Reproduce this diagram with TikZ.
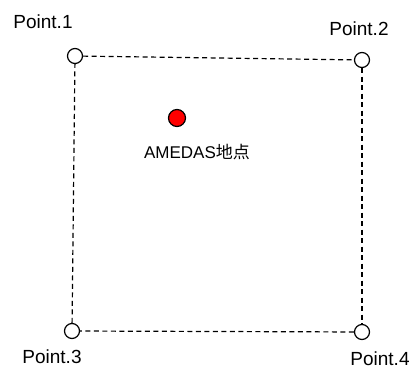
\documentclass[tikz,border=0pt]{standalone}
\usepackage{fontspec}
\setmainfont{Liberation Sans}
\newfontfamily\jpfont{Noto Sans CJK JP}
\begin{document}
\begin{tikzpicture}[x=1pt,y=-1pt,
  gridpt/.style={circle,draw=black,fill=white,line width=1.2pt,minimum size=15pt,inner sep=0pt},
  station/.style={circle,draw=black,fill=red,line width=1.2pt,minimum size=17pt,inner sep=0pt},
  lbl/.style={font=\fontsize{19}{21}\selectfont,inner sep=0pt},
  edge/.style={draw=black,line width=1.2pt,dash pattern=on 5pt off 3.5pt}]
\useasboundingbox[fill=white] (0,0) rectangle (413,369);
% corner grid points
\node[gridpt] (p1) at (75,56) {};
\node[gridpt] (p2) at (362,60) {};
\node[gridpt] (p3) at (72,331) {};
\node[gridpt] (p4) at (362,332) {};
% dashed cell outline
\path[edge] (p1) -- (p2);
\path[edge] (p2) -- (p4);
\path[edge] (p4) -- (p3);
\path[edge] (p3) -- (p1);
% observation station
\node[station] (st) at (177,118) {};
\node[lbl,font=\fontsize{17}{19}\selectfont] (stl) at (197,152) {AMEDAS{\jpfont 地点}};
% corner labels
\node[lbl] (l1) at (43,22) {Point.1};
\node[lbl] (l2) at (359,29) {Point.2};
\node[lbl] (l3) at (52,357) {Point.3};
\node[lbl] (l4) at (380,359) {Point.4};
\end{tikzpicture}
\end{document}
